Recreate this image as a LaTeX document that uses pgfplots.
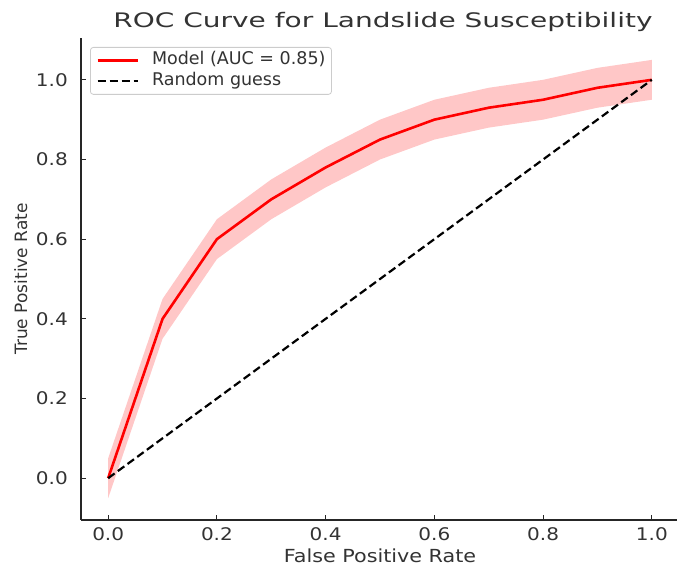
\documentclass[border=0pt]{standalone}
\usepackage{fontspec}
\setmainfont[FakeStretch=1.15]{DejaVu Sans}
\newfontfamily\titlefont[FakeStretch=1.4]{DejaVu Sans}
\newfontfamily\plainfont{DejaVu Sans}
\usepackage{pgfplots}
\pgfplotsset{compat=1.18}
\usepgfplotslibrary{fillbetween}
\begin{document}
\begin{tikzpicture}
\begin{axis}[
  at={(81pt,47pt)}, anchor=south west,
  scale only axis, width=598pt, height=482pt,
  xmin=-0.05, xmax=1.05, ymin=-0.105, ymax=1.105,
  axis x line*=bottom, axis y line*=left,
  axis line style={-, black!85, line width=1.1pt},
  xtick={0,0.2,0.4,0.6,0.8,1.0}, ytick={0,0.2,0.4,0.6,0.8,1.0},
  xticklabels={0.0,0.2,0.4,0.6,0.8,1.0},
  yticklabels={0.0,0.2,0.4,0.6,0.8,1.0},
  tick align=inside, major tick length=5pt,
  tick style={black!85, line width=0.9pt},
  ticklabel style={font=\fontsize{17.4}{20}\selectfont, text=black!80},
  x tick label style={anchor=base, yshift=-21pt, inner sep=0pt},
  y tick label style={anchor=east, xshift=-13pt, inner sep=0pt},
  title={ROC Curve for Landslide Susceptibility},
  title style={font=\titlefont\fontsize{20}{24}\selectfont, text=black!80, at={(axis description cs:0.5,1)}, anchor=base, yshift=4pt, xshift=3pt},
  xlabel={False Positive Rate},
  xlabel style={font=\fontsize{18}{22}\selectfont, text=black!80, at={(axis description cs:0.5,0)}, anchor=base, yshift=-43pt},
  ylabel={True Positive Rate},
  ylabel style={font=\plainfont\fontsize{17}{21}\selectfont, text=black!80, at={(axis description cs:0,0.5)}, anchor=base, yshift=54pt},
  legend cell align=left,
  legend style={at={(axis description cs:0,1)}, anchor=north west, xshift=9pt, yshift=-9pt,
    draw=black!20, rounded corners=3pt, line width=0.8pt,
    font=\plainfont\fontsize{17.5}{21}\selectfont, text=black!80,
    inner xsep=6pt, inner ysep=4.5pt, row sep=4pt,
    nodes={inner sep=0pt, text height=13pt, text depth=4pt},
    /tikz/every odd column/.append style={column sep=13pt}},
  legend image code/.code={\draw[#1] (0pt,0pt) -- (40pt,0pt);},
]
\addplot[name path=upper, draw=none, forget plot] coordinates {
(0.0,0.05) (0.1,0.45) (0.2,0.65) (0.3,0.75) (0.4,0.83) (0.5,0.90) (0.6,0.95) (0.7,0.98) (0.8,1.00) (0.9,1.03) (1.0,1.05)};
\addplot[name path=lower, draw=none, forget plot] coordinates {
(0.0,-0.05) (0.1,0.35) (0.2,0.55) (0.3,0.65) (0.4,0.73) (0.5,0.80) (0.6,0.85) (0.7,0.88) (0.8,0.90) (0.9,0.93) (1.0,0.95)};
\addplot[fill=red, fill opacity=0.22, draw=none, forget plot] fill between[of=upper and lower];
\addplot[red, line width=2.6pt] coordinates {
(0.0,0.00) (0.1,0.40) (0.2,0.60) (0.3,0.70) (0.4,0.78) (0.5,0.85) (0.6,0.90) (0.7,0.93) (0.8,0.95) (0.9,0.98) (1.0,1.00)};
\addlegendentry{Model (AUC = 0.85)}
\addplot[black, line width=2.2pt, dash pattern=on 8pt off 4pt] coordinates {(0,0) (1,1)};
\addlegendentry{Random guess}
\end{axis}
\pgfresetboundingbox
\path[use as bounding box] (0pt,0pt) rectangle (677pt,567pt);
\end{tikzpicture}
\end{document}
